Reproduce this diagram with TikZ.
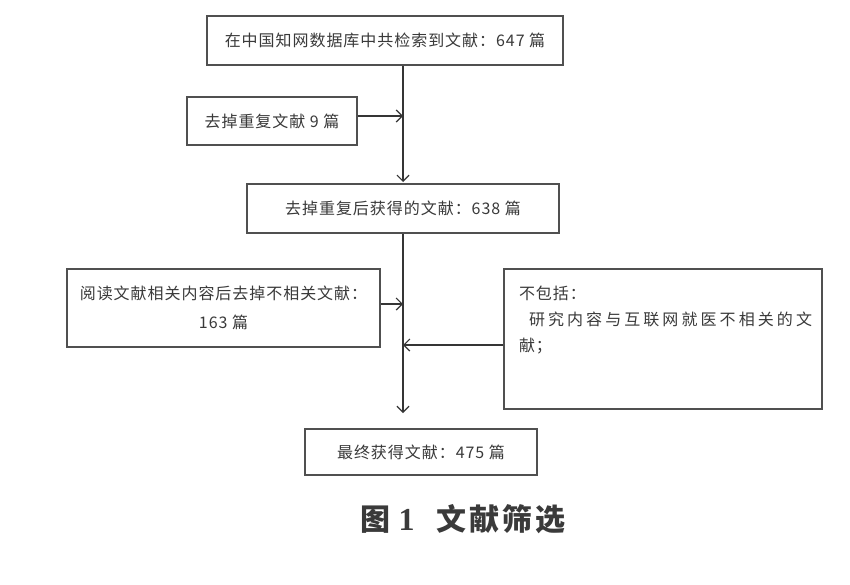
\documentclass[tikz,border=0pt]{standalone}
\usepackage{fontspec}
\usetikzlibrary{arrows.meta}
\newfontfamily\cjkf{Noto Sans CJK SC}
\newfontfamily\cjks[LetterSpace=6]{Noto Sans CJK SC}
\newfontfamily\numf{Liberation Serif}
\definecolor{boxline}{HTML}{505050}
\definecolor{txt}{HTML}{3A3A3A}
\definecolor{arrline}{HTML}{353535}
\tikzset{
  box/.style={draw=boxline, line width=1.5pt, minimum width=#1, inner sep=0pt, text=txt,
    font=\cjks\fontsize{16}{29}\selectfont, align=center},
  arr/.style={draw=arrline, line width=1.2pt, -{Straight Barb[length=6pt,width=12pt]}},
}
\begin{document}
\begin{tikzpicture}[x=1pt,y=-1pt]
\useasboundingbox (0,0) rectangle (850,584);
\fill[white] (0,0) rectangle (850,584);

\node[box=356pt, minimum height=49pt] (b1) at (385,40.5) {在中国知网数据库中共检索到文献：647 篇};
\node[box=170pt, minimum height=48pt] (b2) at (272,121) {去掉重复文献 9 篇};
\node[box=312pt, minimum height=49pt] (b3) at (403,208.5) {去掉重复后获得的文献：638 篇};
\node[box=313pt, minimum height=78pt] (b4) at (223.5,308) {阅读文献相关内容后去掉不相关文献：\\163 篇};
\node[box=318pt, minimum height=140pt, align=left] (b6) at (663,339) {%
  \begin{minipage}[c][140pt][t]{318pt}\fontsize{16}{26}\selectfont\leftskip=15pt\relax
  \vspace*{17pt}不包括：\par
  \hspace*{10pt}\hbox to 283pt{研\hfill 究\hfill 内\hfill 容\hfill 与\hfill 互\hfill 联\hfill 网\hfill 就\hfill 医\hfill 不\hfill 相\hfill 关\hfill 的\hfill 文}\par
  献；\par
  \end{minipage}};
\node[box=232pt, minimum height=46pt] (b5) at (421,452) {最终获得文献：475 篇};

% junction points on the main vertical line
\coordinate (j1) at (403,116);
\coordinate (t1) at (403,182);
\coordinate (j2) at (403,304);
\coordinate (j3) at (403,345);
\coordinate (t2) at (403,413);

\draw[arr] (b1.south -| j1) -- (t1);
\draw[arr] (b2.east |- j1) -- (j1);
\draw[arr] (b3.south -| j2) -- (t2);
\draw[arr] (b4.east |- j2) -- (j2);
\draw[arr] (b6.west |- j3) -- (j3);

\node[text=txt, inner sep=0pt] (cap) at (463,519) {\fontsize{30}{30}\selectfont{\cjkf\bfseries 图}\hspace{8pt}{\numf\bfseries\fontsize{32}{32}\selectfont 1}\hspace{22pt}{\cjkf\bfseries 文\hspace{3pt}献\hspace{3pt}筛\hspace{3pt}选}};
\end{tikzpicture}
\end{document}
